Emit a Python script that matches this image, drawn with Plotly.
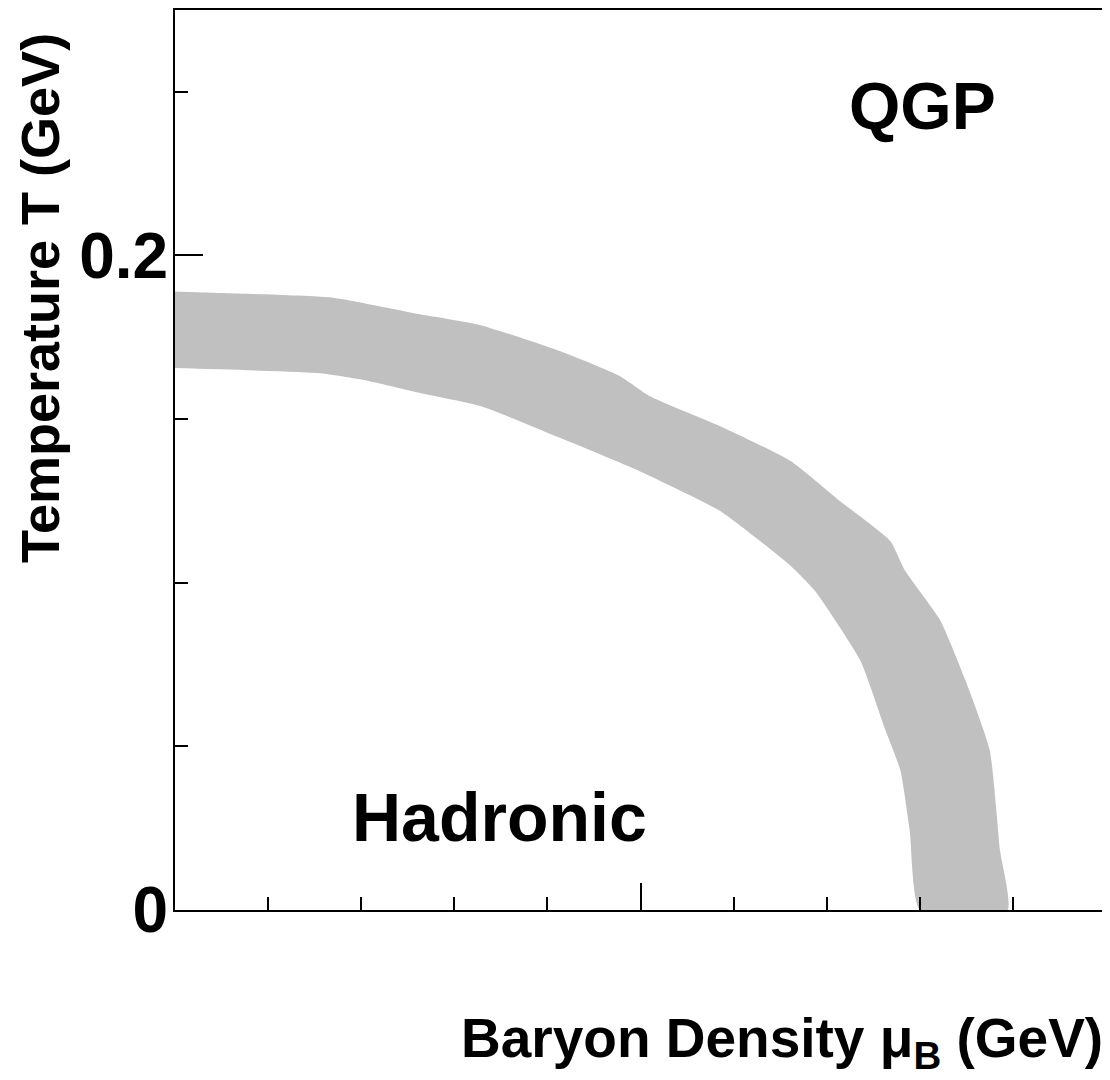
import plotly.graph_objects as go

# phase boundary band, upper (hot) edge and lower edge
mu_upper = [0.0, 0.032, 0.166, 0.263, 0.328, 0.414, 0.478, 0.510, 0.585, 0.661,
            0.714, 0.768, 0.784, 0.822, 0.849, 0.875, 0.886, 0.894]
t_upper = [0.189, 0.1887, 0.1872, 0.182, 0.1787, 0.1707, 0.1631, 0.157, 0.1479, 0.1372,
           0.125, 0.1128, 0.1037, 0.0884, 0.0701, 0.0488, 0.0183, 0.0]
mu_lower = [0.0, 0.156, 0.209, 0.263, 0.328, 0.414, 0.499, 0.585, 0.661, 0.687,
            0.736, 0.763, 0.779, 0.789, 0.800]
t_lower = [0.1656, 0.164, 0.1616, 0.158, 0.154, 0.1442, 0.1341, 0.122, 0.1052, 0.0976,
           0.0762, 0.0549, 0.0427, 0.0244, 0.0]

y_tickvals = [0, 0.2]
y_ticktext = ["0", "0.2"]

FONT = "Liberation Sans, Arial, sans-serif"

band_x = mu_upper + mu_lower[::-1]
band_y = t_upper + t_lower[::-1]

fig = go.Figure(go.Scatter(
    x=band_x, y=band_y, mode="lines", fill="toself",
    fillcolor="#C0C0C0", line=dict(width=0, color="#C0C0C0", shape="spline", smoothing=0.5),
    hoverinfo="skip", showlegend=False,
))

fig.add_annotation(x=0.803, y=0.2457, text="QGP", showarrow=False,
                   font=dict(size=66, family=FONT, color="black", weight="bold"))
fig.add_annotation(x=0.348, y=0.0284, text="Hadronic", showarrow=False,
                   font=dict(size=68, family=FONT, color="black", weight="bold"))

# axis titles (page is offset 8px by the body margin)
fig.add_annotation(xref="paper", yref="paper", x=0, y=0.68, xshift=-135,
                   text="Temperature T (GeV)", textangle=-90, showarrow=False,
                   xanchor="center", yanchor="middle",
                   font=dict(size=54, family=FONT, color="black", weight="bold"))
fig.add_annotation(xref="paper", yref="paper", x=1, y=0, xshift=-3, yshift=-132,
                   text="Baryon Density μ<sub>B</sub> (GeV)", showarrow=False,
                   xanchor="right", yanchor="middle",
                   font=dict(size=55, family=FONT, color="black", weight="bold"))

fig.add_shape(type="line", xref="paper", yref="paper", x0=1, x1=1, y0=0, y1=1,
              line=dict(color="#B4645A", width=2))

fig.update_layout(
    width=1102, height=1072,
    margin=dict(l=167, r=2, t=0, b=170),
    paper_bgcolor="white", plot_bgcolor="white",
    font=dict(family=FONT, color="black"),
    xaxis=dict(range=[0, 1.002], showgrid=False, zeroline=False,
               showline=True, linecolor="black", linewidth=2, mirror=True,
               ticks="inside", dtick=0.5, tick0=0, ticklen=27, tickwidth=2, tickcolor="black",
               minor=dict(ticks="inside", dtick=0.1, ticklen=13, tickwidth=2, tickcolor="black"),
               showticklabels=False),
    yaxis=dict(range=[0, 0.275], showgrid=False, zeroline=False,
               showline=True, linecolor="black", linewidth=2,
               ticks="inside", tickvals=y_tickvals, ticktext=y_ticktext,
               ticklen=28, tickwidth=2, tickcolor="black",
               minor=dict(ticks="inside", dtick=0.05, tick0=0, ticklen=13, tickwidth=2,
                          tickcolor="black"),
               tickfont=dict(size=64, family=FONT, color="black", weight="bold"),
               ticklabelstandoff=-8),
)

fig.write_html("out.html")
